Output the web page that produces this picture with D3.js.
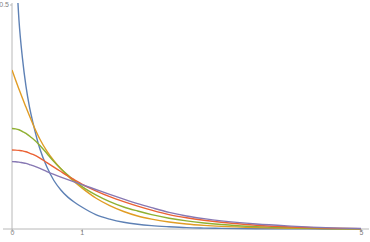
<!DOCTYPE html>
<html><head><meta charset="utf-8">
<script src="https://cdn.jsdelivr.net/npm/d3@7"></script>
<style>html,body{margin:0;padding:0;background:#fff;}svg{display:block;}</style>
</head><body>
<script>
const xs = [0, 0.05, 0.1, 0.15, 0.2, 0.25, 0.3, 0.4, 0.5, 0.6, 0.7, 0.8, 0.9, 1.0, 1.2, 1.4, 1.6, 1.8, 2.0, 2.25, 2.5, 2.75, 3.0, 3.5, 4.0, 4.5, 5.0];
const blue   = [null, 0.61, 0.465, 0.38, 0.318, 0.272, 0.237, 0.178, 0.138, 0.108, 0.087, 0.071, 0.059, 0.049, 0.032, 0.022, 0.015, 0.0105, 0.0075, 0.005, 0.003, 0.002, 0.0013, 0.0006, 0.0003, 0.0001, 0.0001];
const orange = [0.354, 0.3325, 0.3115, 0.291, 0.2715, 0.252, 0.2335, 0.200, 0.1735, 0.152, 0.134, 0.118, 0.104, 0.0915, 0.069, 0.052, 0.039, 0.029, 0.022, 0.0155, 0.011, 0.008, 0.0058, 0.0031, 0.0016, 0.0008, 0.0004];
const green  = [0.224, 0.223, 0.221, 0.217, 0.213, 0.207, 0.201, 0.186, 0.168, 0.150, 0.134, 0.120, 0.107, 0.095, 0.076, 0.061, 0.049, 0.040, 0.032, 0.024, 0.018, 0.0135, 0.010, 0.0052, 0.0025, 0.0011, 0.0004];
const red    = [0.176, 0.1757, 0.175, 0.174, 0.172, 0.169, 0.166, 0.158, 0.148, 0.138, 0.128, 0.118, 0.109, 0.100, 0.085, 0.072, 0.061, 0.051, 0.042, 0.032, 0.025, 0.0195, 0.015, 0.0085, 0.0045, 0.002, 0.0008];
const purple = [0.150, 0.1498, 0.149, 0.1475, 0.146, 0.1435, 0.141, 0.135, 0.128, 0.1215, 0.1155, 0.1098, 0.1043, 0.099, 0.088, 0.077, 0.0665, 0.0565, 0.0475, 0.037, 0.029, 0.023, 0.018, 0.011, 0.0065, 0.003, 0.0012];
const xTicks = [0, 1, 5];
const yTicks = [0.5];

const series = [
  {name: "blue", values: blue, color: "#5E81B5"},
  {name: "orange", values: orange, color: "#E19C24"},
  {name: "green", values: green, color: "#8FB032"},
  {name: "red", values: red, color: "#EB6235"},
  {name: "purple", values: purple, color: "#8778B3"}
];

const W = 370, H = 242;
const svg = d3.select("body").append("svg").attr("width", W).attr("height", H);
const x = d3.scaleLinear().domain([0, 5]).range([12, 361]);
const y = d3.scaleLinear().domain([0, 0.5]).range([229, 4.5]);

svg.append("defs").append("clipPath").attr("id", "clip")
  .append("rect").attr("x", 12).attr("y", 3).attr("width", 358).attr("height", 228);

const axisColor = "#b8b8b8", textColor = "#808080";
// x axis
const xAxis = svg.append("g").attr("transform", `translate(0,${y(0)})`)
  .call(d3.axisBottom(x).tickValues(xTicks).tickFormat(d3.format("d")).tickSize(3).tickSizeOuter(0));
xAxis.select(".domain").remove();
xAxis.append("line").attr("x1", 3).attr("x2", 369).attr("y1", 0).attr("y2", 0).attr("stroke", axisColor);
xAxis.selectAll(".tick line").attr("stroke", axisColor);
xAxis.selectAll(".tick text").attr("fill", textColor).attr("font-size", 7).attr("font-family", "Liberation Sans, Arial, sans-serif").attr("dy", "0.55em").attr("y", 2);

// y axis
const yAxis = svg.append("g").attr("transform", `translate(${x(0)},0)`)
  .call(d3.axisLeft(y).tickValues(yTicks).tickFormat(d3.format(".1f")).tickSize(2).tickSizeOuter(0));
yAxis.select(".domain").remove();
yAxis.append("line").attr("x1", 0).attr("x2", 0).attr("y1", 3).attr("y2", 232).attr("stroke", axisColor);
yAxis.selectAll(".tick line").attr("stroke", axisColor);
yAxis.selectAll(".tick text").attr("fill", textColor).attr("font-size", 7).attr("font-family", "Liberation Sans, Arial, sans-serif").attr("x", -3);

const line = d3.line()
  .defined(d => d[1] !== null)
  .x(d => x(d[0])).y(d => y(d[1]))
  .curve(d3.curveMonotoneX);

const g = svg.append("g").attr("clip-path", "url(#clip)");
series.forEach(s => {
  g.append("path")
    .datum(xs.map((v, i) => [v, s.values[i]]))
    .attr("d", line)
    .attr("fill", "none")
    .attr("stroke", s.color)
    .attr("stroke-width", 1.4)
    .attr("stroke-linejoin", "round");
});
</script>
</body></html>
